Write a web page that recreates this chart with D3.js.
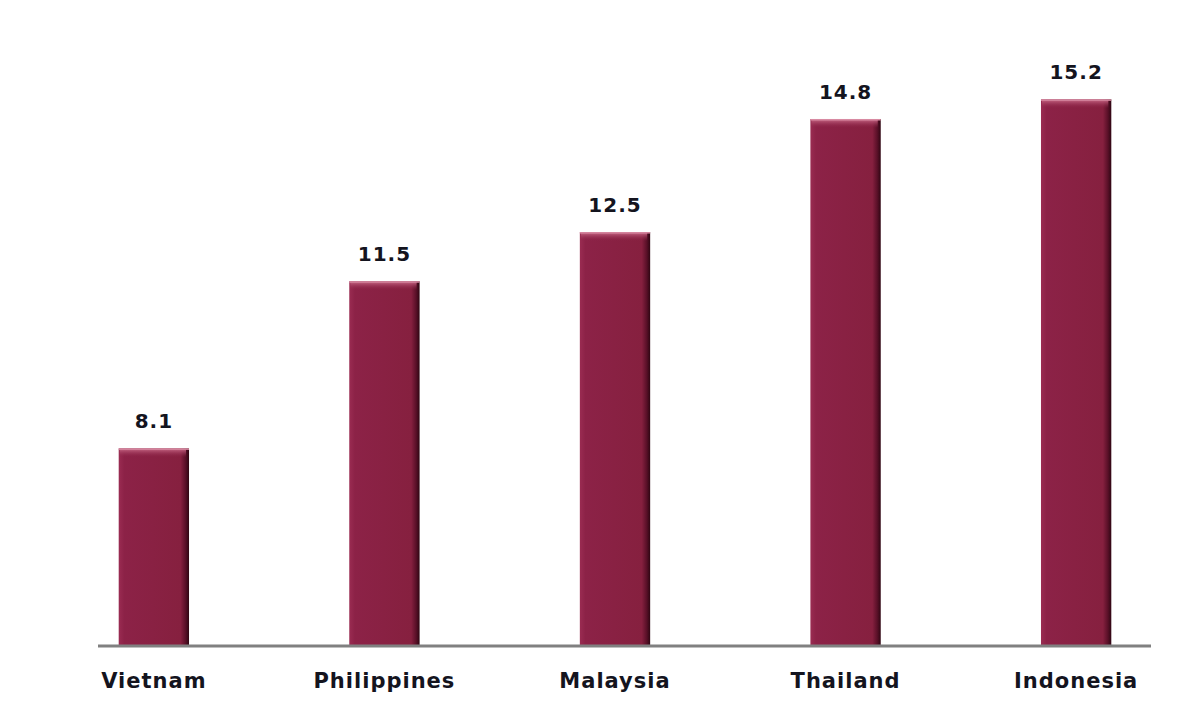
<!DOCTYPE html>
<html lang="en">
<head>
<meta charset="utf-8">
<style>
  body { margin: 0; background: #fff; }
  .cat, .val { font-family: "DejaVu Sans", Verdana, sans-serif; font-weight: bold; fill: #14141e; }
  .cat { font-size: 21px; }
  .val { font-size: 20px; }
</style>
</head>
<body>
<svg id="chart" width="1200" height="714"></svg>
<script src="https://cdn.jsdelivr.net/npm/d3@7/dist/d3.min.js"></script>
<script>
var countries = ["Vietnam", "Philippines", "Malaysia", "Thailand", "Indonesia"];
var values = [8.1, 11.5, 12.5, 14.8, 15.2];

var svg = d3.select("#chart");
var baseY = 645;

var x = d3.scaleBand().domain(countries).range([38, 1192]).paddingInner(0.695).paddingOuter(0.35);
var y = d3.scaleLinear().domain([4.1, 16]).range([baseY, 60]);

var defs = svg.append("defs");
var g1 = defs.append("linearGradient").attr("id", "side").attr("x1", 0).attr("x2", 1).attr("y1", 0).attr("y2", 0);
g1.append("stop").attr("offset", "0%").attr("stop-color", "#9a2c52");
g1.append("stop").attr("offset", "8%").attr("stop-color", "#8c2247");
g1.append("stop").attr("offset", "88%").attr("stop-color", "#86203f");
g1.append("stop").attr("offset", "95%").attr("stop-color", "#5a1028");
g1.append("stop").attr("offset", "100%").attr("stop-color", "#2e0612");

var g2 = defs.append("linearGradient").attr("id", "topbev").attr("x1", 0).attr("x2", 0).attr("y1", 0).attr("y2", 1);
g2.append("stop").attr("offset", "0%").attr("stop-color", "#c0607e");
g2.append("stop").attr("offset", "100%").attr("stop-color", "#8c2247").attr("stop-opacity", 0);

var bars = svg.selectAll("g.bar").data(countries).enter().append("g").attr("class", "bar");

bars.append("rect")
  .attr("x", function(d) { return x(d); })
  .attr("y", function(d, i) { return y(values[i]); })
  .attr("width", x.bandwidth())
  .attr("height", function(d, i) { return baseY - y(values[i]); })
  .attr("fill", "url(#side)");

bars.append("rect")
  .attr("x", function(d) { return x(d) + 1; })
  .attr("y", function(d, i) { return y(values[i]) + 1; })
  .attr("width", x.bandwidth() - 4)
  .attr("height", 8)
  .attr("fill", "url(#topbev)");

bars.append("rect")
  .attr("x", function(d) { return x(d); })
  .attr("y", function(d, i) { return y(values[i]); })
  .attr("width", x.bandwidth())
  .attr("height", 1.5)
  .attr("fill", "#d88aa2");

bars.append("text")
  .attr("class", "val")
  .attr("x", function(d) { return x(d) + x.bandwidth() / 2; })
  .attr("y", function(d, i) { return y(values[i]) - 20; })
  .attr("text-anchor", "middle")
  .attr("letter-spacing", "1")
  .text(function(d, i) { return values[i]; });

svg.append("line")
  .attr("x1", 98).attr("x2", 1151)
  .attr("y1", baseY + 1).attr("y2", baseY + 1)
  .attr("stroke", "#808080").attr("stroke-width", 3);

svg.selectAll("text.cat").data(countries).enter().append("text")
  .attr("class", "cat")
  .attr("x", function(d) { return x(d) + x.bandwidth() / 2; })
  .attr("y", 688)
  .attr("text-anchor", "middle")
  .attr("letter-spacing", "1")
  .text(function(d) { return d; });
</script>
</body>
</html>
